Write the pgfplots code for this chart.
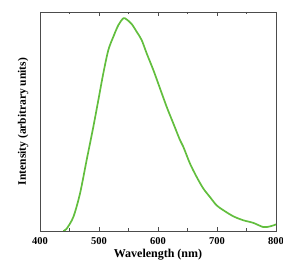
\documentclass[border=0pt]{standalone}
\usepackage{pgfplots}
\pgfplotsset{compat=1.18}
\usepackage{fontspec}
\setmainfont{Liberation Serif}
\definecolor{lgreen}{RGB}{98,190,62}
\begin{document}
\begin{tikzpicture}
\begin{axis}[
  scale only axis, width=236pt, height=219pt,
  xmin=400, xmax=800, ymin=0, ymax=1,
  xtick={400,500,600,700,800},
  minor x tick num=1,
  ytick=\empty,
  tick align=inside,
  major tick length=4pt, minor tick length=2.5pt,
  axis line style={black!70, line width=0.8pt},
  every tick/.style={black!70, line width=0.6pt},
  xticklabel style={font=\bfseries\fontsize{10.5}{10}\selectfont, yshift=-3pt},
  /pgf/number format/assume math mode=true,
  xlabel={\bfseries Wavelength (nm)},
  ylabel={\bfseries Intensity (arbitrary units)},
  xlabel style={font=\fontsize{12}{12}\selectfont, yshift=2pt},
  ylabel style={font=\fontsize{11.5}{12}\selectfont, yshift=8pt},
]
\addplot[lgreen, line width=1.7pt, smooth] coordinates {
(439.5,0) (445,0.010) (456.5,0.064) (467.8,0.171) (479,0.323) (490.4,0.476)
(498.9,0.598) (507.3,0.720) (515.8,0.826) (524.3,0.887) (532.8,0.940)
(541.2,0.971) (546.9,0.966) (555.4,0.945) (563.8,0.910) (572.3,0.872)
(580.8,0.811) (592.1,0.735) (603.4,0.651) (614.7,0.567) (626,0.491)
(637.3,0.415) (643,0.384) (654.2,0.308) (665.5,0.247) (676.8,0.194)
(688.1,0.155) (699.4,0.117) (710.7,0.095) (727.7,0.067) (744.6,0.049)
(761.6,0.037) (778.5,0.018) (789.8,0.021) (800,0.030)
};
\end{axis}
\pgfresetboundingbox
\path[use as bounding box] (-40pt,-41pt) rectangle (243pt,231pt);
\end{tikzpicture}
\end{document}
